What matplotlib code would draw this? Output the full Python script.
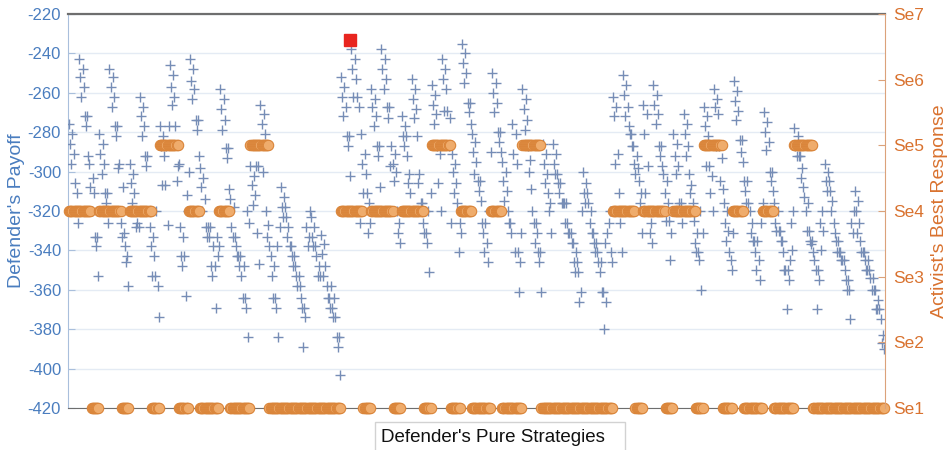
"""
Defender payoff for every pure strategy, with the activist's best response on a second axis.
"""
import matplotlib.pyplot as plt
import numpy as np
from matplotlib.patches import Rectangle

plt.rcParams['font.family'] = ['Liberation Sans', 'DejaVu Sans']
plt.rcParams['axes.unicode_minus'] = False

# defender payoff, 27 blocks of 27 pure strategies (three thirds of 243)
# each block is three groups of nine, listed from best to worst payoff
payoff_third1 = [
    [-276, -281, -286, -291, -296, -306, -311, -320, -326,
     -243, -248, -252, -257, -262, -272, -272, -277, -292,
     -296, -303, -308, -311, -320, -333, -333, -338, -353],
    [-281, -286, -291, -296, -301, -311, -311, -316, -326,
     -248, -252, -257, -262, -267, -277, -277, -282, -298,
     -296, -308, -326, -331, -333, -338, -343, -346, -358],
    [-296, -301, -306, -311, -316, -320, -326, -328, -328,
     -262, -267, -272, -277, -282, -292, -292, -297, -320,
     -328, -333, -338, -343, -353, -353, -358, -320, -374],
    [-277, -282, -287, -292, -307, -307, -327, -287, -277,
     -246, -251, -257, -262, -266, -277, -297, -305, -296,
     -328, -333, -343, -343, -348, -363, -320, -312, -300],
    [-243, -248, -254, -258, -263, -274, -274, -279, -292,
     -298, -303, -308, -314, -320, -328, -328, -333, -333,
     -328, -338, -348, -348, -353, -369, -343, -333, -338],
    [-258, -263, -268, -274, -279, -288, -288, -293, -309,
     -314, -318, -328, -333, -333, -338, -343, -343, -348,
     -343, -348, -353, -364, -364, -369, -384, -320, -326],
    [-297, -302, -307, -312, -317, -297, -297, -331, -347,
     -266, -271, -276, -281, -300, -320, -327, -333, -338,
     -343, -348, -353, -364, -364, -369, -384, -338, -328],
    [-308, -313, -318, -318, -323, -323, -328, -333, -338,
     -338, -343, -343, -348, -348, -353, -353, -358, -358,
     -364, -369, -369, -374, -389, -328, -333, -338, -320],
    [-323, -328, -333, -338, -338, -343, -348, -353, -353,
     -332, -337, -342, -348, -353, -358, -364, -364, -369,
     -358, -364, -369, -374, -374, -384, -384, -389, -403],
]
payoff_third2 = [
    [-252, -257, -262, -267, -272, -282, -282, -287, -302,
     -238, -243, -248, -253, -262, -262, -267, -320, -326,
     -281, -291, -296, -301, -311, -311, -316, -331, -326],
    [-258, -263, -267, -272, -277, -287, -287, -292, -308,
     -238, -243, -248, -253, -258, -267, -267, -273, -297,
     -287, -291, -296, -300, -305, -320, -326, -331, -336],
    [-272, -277, -282, -282, -287, -292, -301, -306, -311,
     -253, -258, -263, -268, -273, -282, -301, -306, -316,
     -316, -320, -326, -331, -331, -336, -351, -320, -311],
    [-256, -261, -266, -271, -276, -287, -291, -306, -320,
     -243, -248, -253, -258, -269, -269, -273, -287, -326,
     -291, -296, -300, -306, -311, -316, -326, -341, -331],
    [-235, -240, -245, -250, -255, -265, -265, -270, -276,
     -281, -285, -290, -295, -301, -305, -305, -310, -315,
     -326, -326, -331, -336, -341, -346, -320, -320, -290],
    [-250, -255, -260, -265, -270, -280, -280, -285, -290,
     -295, -300, -305, -310, -315, -320, -326, -326, -331,
     -276, -281, -291, -296, -341, -341, -346, -361, -331],
    [-258, -263, -268, -274, -279, -287, -294, -300, -309,
     -320, -326, -326, -331, -336, -341, -341, -346, -361,
     -286, -291, -296, -301, -306, -311, -316, -320, -331],
    [-286, -291, -296, -301, -301, -306, -306, -311, -316,
     -316, -316, -316, -326, -326, -331, -331, -331, -336,
     -336, -341, -346, -346, -351, -351, -361, -366, -320],
    [-300, -306, -311, -311, -316, -316, -320, -326, -331,
     -331, -336, -336, -341, -341, -346, -346, -351, -361,
     -361, -366, -380, -331, -336, -326, -341, -320, -346],
]
payoff_third3 = [
    [-262, -267, -272, -291, -296, -311, -320, -326, -341,
     -251, -256, -261, -267, -272, -277, -281, -281, -287,
     -287, -292, -296, -298, -301, -305, -311, -316, -331],
    [-266, -271, -281, -297, -311, -320, -326, -331, -336,
     -256, -261, -266, -271, -276, -287, -287, -292, -297,
     -301, -305, -311, -316, -325, -325, -331, -345, -320],
    [-281, -286, -292, -297, -301, -316, -316, -320, -326,
     -271, -276, -281, -287, -292, -301, -307, -311, -316,
     -325, -331, -336, -341, -341, -345, -360, -320, -331],
    [-267, -272, -277, -282, -297, -297, -302, -311, -320,
     -258, -263, -267, -271, -287, -287, -293, -305, -309,
     -316, -320, -326, -330, -335, -341, -350, -345, -331],
    [-254, -259, -264, -269, -274, -284, -284, -290, -295,
     -305, -305, -310, -316, -316, -320, -326, -331, -335,
     -335, -335, -341, -345, -350, -355, -320, -326, -316],
    [-270, -275, -280, -285, -289, -300, -300, -305, -310,
     -316, -320, -326, -330, -330, -330, -335, -335, -341,
     -350, -350, -350, -355, -370, -345, -340, -326, -320],
    [-278, -282, -287, -292, -292, -292, -298, -303, -308,
     -313, -316, -320, -330, -330, -335, -335, -337, -341,
     -345, -350, -350, -355, -370, -326, -320, -340, -330],
    [-296, -300, -305, -305, -310, -310, -315, -320, -326,
     -331, -335, -335, -341, -341, -341, -345, -345, -345,
     -350, -355, -355, -360, -360, -375, -331, -326, -320],
    [-310, -315, -320, -326, -331, -335, -341, -341, -341,
     -345, -345, -350, -350, -350, -354, -354, -360, -360,
     -360, -365, -370, -370, -370, -375, -383, -387, -390],
]

# position of each ranked payoff inside its group of nine strategies
group_order = [0, 2, 4, 1, 3, 5, 7, 6, 8]

# activist best response (Se index) as runs, same pattern in each third
br_levels = [4, 1, 4, 1, 4, 1, 5, 1, 4, 1, 4, 1, 5, 1]
br_runs = [20, 7, 20, 7, 20, 7, 17, 9, 10, 17, 10, 18, 17, 64]
se_labels = ['Se1', 'Se2', 'Se3', 'Se4', 'Se5', 'Se6', 'Se7']

# chosen strategy
best_strategy = 252
best_payoff = -233

ranked = np.concatenate([np.concatenate(b) for b in
                         (payoff_third1, payoff_third2, payoff_third3)])
payoff = ranked.reshape(-1, 9)[:, group_order].ravel()
response = np.tile(np.repeat(br_levels, br_runs), 3)
strategies = np.arange(1, len(payoff) + 1)

blue = '#4a7dbf'
orange = '#d9722f'

fig = plt.figure(figsize=(9.49, 4.5), dpi=100)
ax = fig.add_axes([68 / 949, 42 / 450, 817 / 949, 394 / 450])
ax.plot(strategies, payoff, ls='none', marker='+', ms=7, mew=1.0,
        color='#768db6', zorder=3)
ax.plot([best_strategy], [best_payoff], ls='none', marker='s', ms=8.5,
        color='#e8251f', zorder=5, clip_on=False)
ax.set_xlim(0, 730)
ax.set_ylim(-420, -220)
ax.set_yticks(np.arange(-420, -219, 20))
ax.set_xticks([])
ax.yaxis.grid(True, color='#e4ebf4', lw=1)
ax.set_axisbelow(True)
ax.tick_params(axis='y', direction='in', length=5, color='#a9bfdc',
               labelcolor=blue, labelsize=12, right=True, pad=5)
ax.spines['left'].set_color('#a9bfdc')
ax.spines['right'].set_visible(False)
ax.spines['top'].set_color('#6e6e6e')
ax.spines['top'].set_linewidth(1.6)
ax.spines['bottom'].set_color('#6e6e6e')
ax.set_ylabel("Defender's Payoff", color=blue, fontsize=14, labelpad=2)

ax2 = ax.twinx()
ax2.plot(strategies, response, ls='none', marker='o', ms=7.5,
         mfc='#efac6c', mec='#da853a', mew=0.8, clip_on=False)
ax2.set_ylim(1, 7)
ax2.set_yticks(np.arange(1, 8), se_labels)
ax2.tick_params(axis='y', direction='in', length=5, color='#dba27a',
                labelcolor=orange, labelsize=12.5, pad=6)
for side in ('left', 'top', 'bottom'):
    ax2.spines[side].set_visible(False)
ax2.spines['right'].set_color('#dba27a')
ax2.set_ylabel("Activist's Best Response", color=orange, fontsize=14,
               labelpad=5)

fig.patches.append(Rectangle((375 / 949, -0.02), 250 / 949, (450 - 422) / 450 + 0.02,
                             transform=fig.transFigure, fill=False,
                             ec='#d2d2d2', lw=1))
fig.text(493 / 949, 1 - 438 / 450, "Defender's Pure Strategies",
         ha='center', va='center', fontsize=13.5, color='#111111')

fig.savefig('out.png', dpi=100)
